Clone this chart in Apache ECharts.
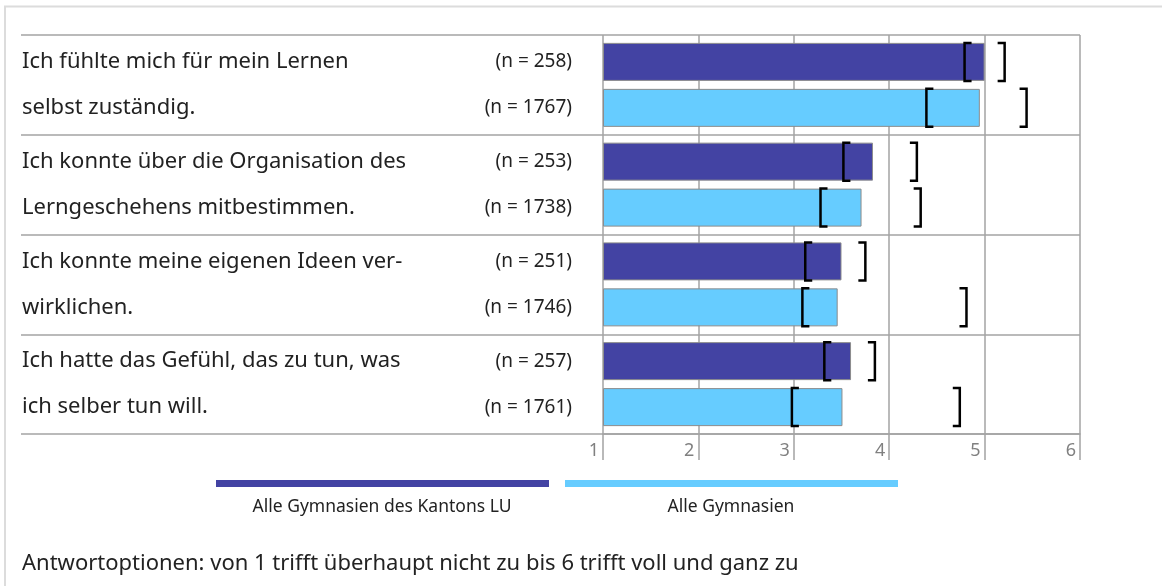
<!DOCTYPE html>
<html>
<head>
<meta charset="utf-8">
<script src="https://cdn.jsdelivr.net/npm/echarts@6/dist/echarts.min.js"></script>
<style>
  html, body { margin: 0; padding: 0; background: #fff; }
  #chart { width: 1162px; height: 586px; }
</style>
</head>
<body>
<div id="chart"></div>
<script>
// Survey items (two text lines each, one line per bar)
const items = [
  'Ich fühlte mich für mein Lernen\nselbst zuständig.',
  'Ich konnte über die Organisation des\nLerngeschehens mitbestimmen.',
  'Ich konnte meine eigenen Ideen ver-\nwirklichen.',
  'Ich hatte das Gefühl, das zu tun, was\nich selber tun will.'
];
const groupNames = ['Alle Gymnasien des Kantons LU', 'Alle Gymnasien'];

// Means per item
const meanLU  = [5.00, 3.83, 3.50, 3.60];
const meanAll = [4.95, 3.71, 3.46, 3.51];

// Sample sizes per item
const nLU  = [258, 253, 251, 257];
const nAll = [1767, 1738, 1746, 1761];

// Interval brackets per item
const lowLU   = [4.79, 3.52, 3.12, 3.32];
const highLU  = [5.21, 4.29, 3.75, 3.85];
const lowAll  = [4.39, 3.28, 3.09, 2.98];
const highAll = [5.44, 4.33, 4.81, 4.74];

// Answer scale
const scaleMin = 1;
const scaleMax = 6;

const footnote = 'Antwortoptionen: von 1 trifft überhaupt nicht zu bis 6 trifft voll und ganz zu';

const FONT = '"Noto Sans", sans-serif';
const GRID_COLOR = '#a3a3a3';
const DARK = '#4343a3';
const LIGHT = '#66ccff';

function bracketSeries(name, low, high, side) {
  return {
    type: 'custom',
    name: name,
    xAxisIndex: 0,
    yAxisIndex: 0,
    z: 5,
    silent: true,
    clip: false,
    data: low.map((l, i) => [l, high[i], i]),
    encode: { x: [0, 1], y: 2 },
    renderItem(params, api) {
      const cat = api.value(2);
      const band = api.size([0, 1])[1];
      const pLow = api.coord([api.value(0), cat]);
      const pHigh = api.coord([api.value(1), cat]);
      const cy = pLow[1] + side * band * 0.23;
      const h = band * 0.38 / 2;
      const s = 7;
      const st = { stroke: '#000', lineWidth: 2.5, fill: null, lineJoin: 'miter' };
      return {
        type: 'group',
        children: [
          { type: 'polyline', shape: { points: [[pLow[0] + s, cy - h], [pLow[0], cy - h], [pLow[0], cy + h], [pLow[0] + s, cy + h]] }, style: st },
          { type: 'polyline', shape: { points: [[pHigh[0] - s, cy - h], [pHigh[0], cy - h], [pHigh[0], cy + h], [pHigh[0] - s, cy + h]] }, style: st }
        ]
      };
    }
  };
}

function barSeries(name, values, ns, color) {
  return {
    type: 'bar',
    name: name,
    xAxisIndex: 0,
    yAxisIndex: 0,
    data: values,
    barWidth: 38,
    barGap: '21%',
    clip: true,
    itemStyle: { color: color, borderColor: '#8c8c8c', borderWidth: 1 },
    label: {
      show: true,
      position: 'left',
      distance: 31,
      formatter: p => '(n = ' + ns[p.dataIndex] + ')',
      fontFamily: FONT,
      fontSize: 19,
      color: '#222'
    }
  };
}

const chart = echarts.init(document.getElementById('chart'), null, { renderer: 'canvas' });

chart.setOption({
  animation: false,
  backgroundColor: '#fff',
  grid: [
    { left: 603, top: 35, width: 477, height: 399 },
    { left: 21, top: 35, width: 582, height: 399 }
  ],
  xAxis: [
    {
      gridIndex: 0,
      type: 'value',
      min: scaleMin,
      max: scaleMax,
      interval: 1,
      startValue: scaleMin,
      axisLine: { show: true, lineStyle: { color: GRID_COLOR, width: 1.5 } },
      axisTick: { show: true, length: 26, lineStyle: { color: GRID_COLOR, width: 1.5 } },
      splitLine: { show: true, lineStyle: { color: GRID_COLOR, width: 1.5 } },
      axisLabel: {
        align: 'right',
        verticalAlign: 'top',
        margin: 8,
        padding: [0, 4, 0, 0],
        fontFamily: FONT,
        fontSize: 18,
        color: '#808080'
      }
    },
    { gridIndex: 1, type: 'value', min: 0, max: 1, show: false }
  ],
  yAxis: [
    {
      gridIndex: 0,
      type: 'category',
      data: items,
      inverse: true,
      axisLine: { show: false },
      axisTick: { show: false },
      splitLine: { show: true, lineStyle: { color: GRID_COLOR, width: 1.5 } },
      axisLabel: {
        align: 'left',
        margin: 581,
        lineHeight: 46,
        padding: [4, 0, 0, 0],
        fontFamily: FONT,
        fontSize: 22,
        color: '#222'
      }
    },
    {
      gridIndex: 1,
      type: 'category',
      data: items,
      inverse: true,
      axisLine: { show: false },
      axisTick: { show: false },
      axisLabel: { show: false },
      splitLine: { show: true, lineStyle: { color: GRID_COLOR, width: 1.5 } }
    }
  ],
  legend: [
    {
      left: 216, top: 480, padding: 0, itemWidth: 333, itemHeight: 7, itemGap: 0,
      icon: 'rect', selectedMode: false, data: [groupNames[0]], formatter: () => '',
      itemStyle: { borderWidth: 0 }, textStyle: { fontSize: 14 }
    },
    {
      left: 565, top: 480, padding: 0, itemWidth: 333, itemHeight: 7, itemGap: 0,
      icon: 'rect', selectedMode: false, data: [groupNames[1]], formatter: () => '',
      itemStyle: { borderWidth: 0 }, textStyle: { fontSize: 14 }
    }
  ],
  graphic: [
    {
      type: 'polyline',
      silent: true,
      shape: { points: [[5, 586], [5, 6.5], [1162, 6.5]] },
      style: { stroke: '#dcdcdc', lineWidth: 2, fill: null }
    },
    {
      type: 'text', x: 382, y: 507,
      style: { text: groupNames[0], textAlign: 'center', textVerticalAlign: 'middle', font: '17.5px ' + FONT, fill: '#222' }
    },
    {
      type: 'text', x: 731, y: 507,
      style: { text: groupNames[1], textAlign: 'center', textVerticalAlign: 'middle', font: '17.5px ' + FONT, fill: '#222' }
    },
    {
      type: 'text', x: 22, y: 564,
      style: { text: footnote, textAlign: 'left', textVerticalAlign: 'middle', font: '22px ' + FONT, fill: '#222' }
    }
  ],
  series: [
    barSeries(groupNames[0], meanLU, nLU, DARK),
    barSeries(groupNames[1], meanAll, nAll, LIGHT),
    bracketSeries('Intervall LU', lowLU, highLU, -1),
    bracketSeries('Intervall alle', lowAll, highAll, 1)
  ]
});
</script>
</body>
</html>
